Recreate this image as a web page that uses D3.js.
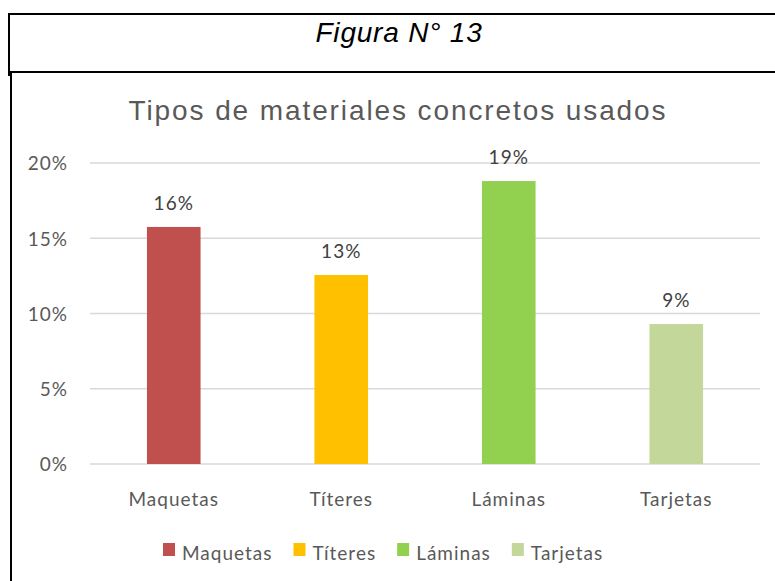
<!DOCTYPE html>
<html><head><meta charset="utf-8">
<script src="https://cdn.jsdelivr.net/npm/d3@7"></script>
<style>body{margin:0;background:#fff}svg{display:block}</style>
</head><body>
<script>
const categories = ["Maquetas", "Títeres", "Láminas", "Tarjetas"];
const values = [0.1575, 0.1256, 0.188, 0.093];
const labels = ["16%", "13%", "19%", "9%"];
const colors = ["#C0504D", "#FFC000", "#92D050", "#C4D79B"];
const yTicks = [0, 0.05, 0.10, 0.15, 0.20];

const W = 775, H = 581;
const svg = d3.select("body").append("svg").attr("width", W).attr("height", H);

// frame
svg.append("line").attr("x1",8).attr("x2",W).attr("y1",14).attr("y2",14).attr("stroke","#000").attr("stroke-width",2);
svg.append("line").attr("x1",9).attr("x2",9).attr("y1",13).attr("y2",76).attr("stroke","#000").attr("stroke-width",2);
svg.append("line").attr("x1",10).attr("x2",W).attr("y1",72).attr("y2",72).attr("stroke","#000").attr("stroke-width",2);
svg.append("line").attr("x1",11).attr("x2",11).attr("y1",71).attr("y2",H).attr("stroke","#000").attr("stroke-width",2);

svg.append("text").attr("x",399).attr("y",42).attr("text-anchor","middle")
  .attr("font-family","Liberation Sans, Arial, sans-serif").attr("font-style","italic")
  .attr("font-size",28).attr("letter-spacing",0.8).attr("fill","#000").text("Figura N° 13");

svg.append("text").attr("x",398).attr("y",120).attr("text-anchor","middle")
  .attr("font-family","Liberation Sans, Arial, sans-serif").attr("letter-spacing",1.9)
  .attr("font-size",28).attr("fill","#595959").text("Tipos de materiales concretos usados");

const x = d3.scaleBand().domain(categories).range([90, 760]).paddingInner(0.68).paddingOuter(0.34);
const y = d3.scaleLinear().domain([0, 0.20]).range([464, 163]);

const font = "Lato, 'Open Sans', sans-serif";
const FS = 19, LS = 1;

// gridlines
svg.append("g").selectAll("line").data(yTicks).join("line")
  .attr("x1",90).attr("x2",760).attr("y1",d=>y(d)).attr("y2",d=>y(d))
  .attr("stroke","#d9d9d9").attr("stroke-width",1.5);

// y axis labels
const yAxis = d3.axisLeft(y).tickValues(yTicks).tickFormat(d3.format(".0%")).tickSize(0).tickPadding(0);
const ya = svg.append("g").attr("transform","translate(68,0)").call(yAxis);
ya.select(".domain").remove();
ya.selectAll("text").attr("font-family",font).attr("font-size",FS).attr("letter-spacing",LS).attr("fill","#595959").attr("dy","0.36em");

// bars
svg.append("g").selectAll("rect").data(categories).join("rect")
  .attr("x",d=>x(d)).attr("width",x.bandwidth())
  .attr("y",(d,i)=>y(values[i])).attr("height",(d,i)=>y(0)-y(values[i]))
  .attr("fill",(d,i)=>colors[i]);

// data labels
svg.append("g").selectAll("text").data(categories).join("text")
  .attr("x",d=>x(d)+x.bandwidth()/2).attr("y",(d,i)=>y(values[i])-17)
  .attr("text-anchor","middle").attr("font-family",font).attr("font-size",FS).attr("letter-spacing",LS).attr("fill","#404040")
  .text((d,i)=>labels[i]);

// x axis
const xAxis = d3.axisBottom(x).tickSize(0).tickPadding(0);
const xa = svg.append("g").attr("transform","translate(0,506)").call(xAxis);
xa.select(".domain").remove();
xa.selectAll("text").attr("font-family",font).attr("font-size",FS).attr("letter-spacing",LS).attr("fill","#595959").attr("y",0).attr("dy",0);

// legend
const lg = svg.append("g").attr("transform","translate(0,543)");
let lx = 163;
categories.forEach((c,i)=>{
  const g = lg.append("g").attr("transform",`translate(${lx},0)`);
  g.append("rect").attr("width",12).attr("height",13).attr("fill",colors[i]);
  const t = g.append("text").attr("x",19).attr("y",17).attr("font-family",font).attr("font-size",FS)
    .attr("letter-spacing",LS).attr("fill","#595959").text(c);
  lx += 19 + t.node().getComputedTextLength() + 21;
});
</script>
</body></html>
